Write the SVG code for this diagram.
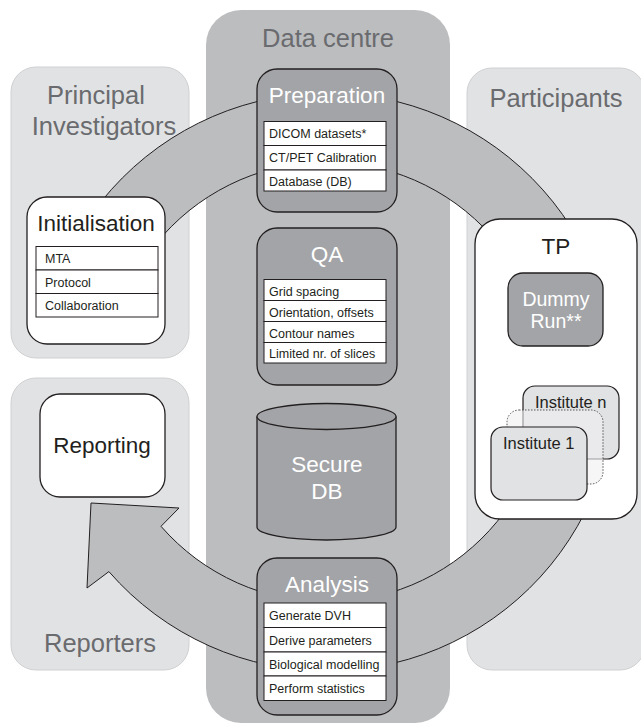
<svg xmlns="http://www.w3.org/2000/svg" width="641" height="724" viewBox="0 0 641 724">
  <style>
    text { font-family: "Liberation Sans", Arial, sans-serif; }
    .panel-light { fill: #e1e2e4; stroke: #cfd0d2; stroke-width: 1; }
    .panel-dark { fill: #bcbdbf; stroke: none; }
    .panel-title { font-size: 25.5px; fill: #6a6b6e; text-anchor: middle; }
    .box-white { fill: #ffffff; stroke: #231f20; stroke-width: 1.3; }
    .box-dark { fill: #a3a4a7; stroke: #231f20; stroke-width: 1.3; }
    .box-inst { fill: #e1e2e4; stroke: #231f20; stroke-width: 1.2; }
    .title-dark { font-size: 22.5px; fill: #231f20; text-anchor: middle; }
    .title-light { font-size: 22.5px; fill: #ffffff; text-anchor: middle; }
    .cell { fill: #ffffff; stroke: #231f20; stroke-width: 1; }
    .cell-text { font-size: 12.5px; fill: #231f20; }
    .ring { fill: #bcbdbf; stroke: #231f20; stroke-width: 1; stroke-linejoin: miter; }
  </style>

  <!-- background panels -->
  <g id="panel-data-centre">
    <rect class="panel-dark" x="206" y="10" width="244" height="713" rx="35"/>
    <text class="panel-title" x="328" y="47">Data centre</text>
  </g>
  <g id="panel-principal-investigators">
    <rect class="panel-light" x="11" y="67" width="178" height="291" rx="25"/>
    <text class="panel-title" x="96" y="104">Principal</text>
    <text class="panel-title" x="104" y="135">Investigators</text>
  </g>
  <g id="panel-reporters">
    <rect class="panel-light" x="11" y="378" width="178" height="292" rx="25"/>
    <text class="panel-title" x="100" y="652">Reporters</text>
  </g>
  <g id="panel-participants">
    <rect class="panel-light" x="467" y="68" width="178" height="602" rx="25"/>
    <text class="panel-title" x="556" y="107">Participants</text>
  </g>

  <!-- workflow cycle arrow -->
  <g id="connectors">
    <path class="ring" d="M 55.4 283.2 A 289 289 0 1 1 108.9 571.6 L 87 588 L 91 503 L 179 508 L 161 526.3 A 220 220 0 1 0 120.3 306.8 Z"/>
  </g>

  <g id="initialisation">
    <rect class="box-white" x="27" y="197" width="138" height="147" rx="20"/>
    <text class="title-dark" x="96" y="231">Initialisation</text>
    <rect class="cell" x="36" y="246.5" width="122" height="23.5"/>
    <rect class="cell" x="36" y="270" width="122" height="23.5"/>
    <rect class="cell" x="36" y="293.5" width="122" height="23.5"/>
    <text class="cell-text" x="45" y="263">MTA</text>
    <text class="cell-text" x="45" y="286.5">Protocol</text>
    <text class="cell-text" x="45" y="310">Collaboration</text>
  </g>

  <g id="reporting">
    <rect class="box-white" x="40" y="394" width="125" height="103" rx="20"/>
    <text class="title-dark" x="102" y="453">Reporting</text>
  </g>

  <g id="preparation">
    <rect class="box-dark" x="257" y="69" width="140" height="143" rx="20"/>
    <text class="title-light" x="327" y="103">Preparation</text>
    <rect class="cell" x="264" y="121.5" width="122" height="24"/>
    <rect class="cell" x="264" y="145.5" width="122" height="24.5"/>
    <rect class="cell" x="264" y="170" width="122" height="21"/>
    <text class="cell-text" x="269" y="138">DICOM datasets*</text>
    <text class="cell-text" x="269" y="162">CT/PET Calibration</text>
    <text class="cell-text" x="269" y="185.5">Database (DB)</text>
  </g>

  <g id="qa">
    <rect class="box-dark" x="257" y="228" width="140" height="157" rx="20"/>
    <text class="title-light" x="327" y="262">QA</text>
    <rect class="cell" x="264" y="279.5" width="122" height="21"/>
    <rect class="cell" x="264" y="300.5" width="122" height="21"/>
    <rect class="cell" x="264" y="321.5" width="122" height="21"/>
    <rect class="cell" x="264" y="342.5" width="122" height="20.5"/>
    <text class="cell-text" x="269" y="295.5">Grid spacing</text>
    <text class="cell-text" x="269" y="316.5">Orientation, offsets</text>
    <text class="cell-text" x="269" y="337.5">Contour names</text>
    <text class="cell-text" x="269" y="358">Limited nr. of slices</text>
  </g>

  <g id="secure-db">
    <path class="box-dark" d="M 257 416.5 L 257 527 A 69.5 13 0 0 0 396 527 L 396 416.5"/>
    <ellipse class="box-dark" cx="326.5" cy="416.5" rx="69.5" ry="13"/>
    <text class="title-light" x="327" y="472">Secure</text>
    <text class="title-light" x="327" y="499">DB</text>
  </g>

  <g id="analysis">
    <rect class="box-dark" x="257" y="558" width="140" height="157" rx="20"/>
    <text class="title-light" x="327" y="592">Analysis</text>
    <rect class="cell" x="264" y="603" width="122" height="24.5"/>
    <rect class="cell" x="264" y="627.5" width="122" height="24.5"/>
    <rect class="cell" x="264" y="652" width="122" height="24"/>
    <rect class="cell" x="264" y="676" width="122" height="24.5"/>
    <text class="cell-text" x="269" y="620">Generate DVH</text>
    <text class="cell-text" x="269" y="644.5">Derive parameters</text>
    <text class="cell-text" x="269" y="668.5">Biological modelling</text>
    <text class="cell-text" x="269" y="693">Perform statistics</text>
  </g>

  <g id="tp">
    <rect class="box-white" x="475" y="219" width="162" height="300" rx="25"/>
    <text class="title-dark" x="556" y="254">TP</text>
  </g>

  <g id="dummy-run">
    <rect class="box-dark" x="508" y="273" width="95" height="73" rx="15"/>
    <text class="title-light" x="556" y="306" style="font-size:19.5px">Dummy</text>
    <text class="title-light" x="556" y="328" style="font-size:19.5px">Run**</text>
  </g>

  <g id="institute-n">
    <rect class="box-inst" x="523" y="386" width="96" height="73" rx="12"/>
    <text x="535" y="408" style="font-size:16.5px" fill="#231f20">Institute n</text>
  </g>
  <g id="institute-middle">
    <rect x="507" y="410" width="96" height="74" rx="12" fill="#f0f0f1" fill-opacity="0.6" stroke="#555" stroke-width="1" stroke-dasharray="1.5 1.5"/>
  </g>
  <g id="institute-1">
    <rect class="box-inst" x="491" y="427" width="96" height="73" rx="12"/>
    <text x="503" y="449" style="font-size:16.5px" fill="#231f20">Institute 1</text>
  </g>
</svg>
